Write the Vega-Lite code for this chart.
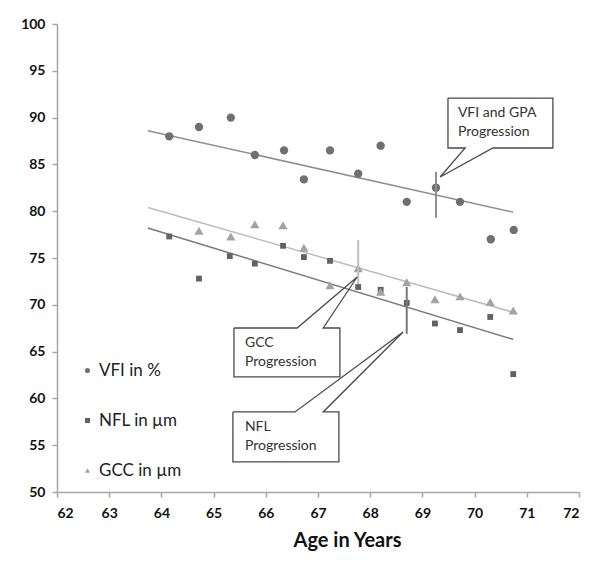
{
  "$schema": "https://vega.github.io/schema/vega-lite/v6.json",
  "width": 522,
  "height": 468,
  "autosize": {"type": "none"},
  "padding": {"left": 57, "top": 24, "right": 29, "bottom": 79},
  "background": "white",
  "config": {
    "view": {"stroke": null},
    "font": "Lato",
    "axis": {"grid": false, "domainColor": "#a6a6a6", "domainWidth": 1.5, "tickColor": "#a6a6a6", "tickWidth": 1.5, "tickSize": 5, "labelFont": "Lato", "labelFontWeight": "bold", "labelFontSize": 14, "labelColor": "#111", "titleFont": "Lato", "titleColor": "#111"}
  },
  "datasets": {
    "points": [
      {"series": "VFI in %", "age": 64.15, "value": 88.0},
      {"series": "VFI in %", "age": 64.72, "value": 89.0},
      {"series": "VFI in %", "age": 65.33, "value": 90.0},
      {"series": "VFI in %", "age": 65.79, "value": 86.0},
      {"series": "VFI in %", "age": 66.35, "value": 86.5},
      {"series": "VFI in %", "age": 66.73, "value": 83.4},
      {"series": "VFI in %", "age": 67.23, "value": 86.5},
      {"series": "VFI in %", "age": 67.77, "value": 84.0},
      {"series": "VFI in %", "age": 68.2, "value": 87.0},
      {"series": "VFI in %", "age": 68.7, "value": 81.0},
      {"series": "VFI in %", "age": 69.26, "value": 82.5},
      {"series": "VFI in %", "age": 69.72, "value": 81.0},
      {"series": "VFI in %", "age": 70.31, "value": 77.0},
      {"series": "VFI in %", "age": 70.75, "value": 78.0},
      {"series": "NFL in µm", "age": 64.15, "value": 77.3},
      {"series": "NFL in µm", "age": 64.72, "value": 72.8},
      {"series": "NFL in µm", "age": 65.31, "value": 75.2},
      {"series": "NFL in µm", "age": 65.79, "value": 74.4},
      {"series": "NFL in µm", "age": 66.33, "value": 76.3},
      {"series": "NFL in µm", "age": 66.73, "value": 75.1},
      {"series": "NFL in µm", "age": 67.23, "value": 74.7},
      {"series": "NFL in µm", "age": 67.77, "value": 71.9},
      {"series": "NFL in µm", "age": 68.2, "value": 71.6},
      {"series": "NFL in µm", "age": 68.7, "value": 70.2},
      {"series": "NFL in µm", "age": 69.24, "value": 68.0},
      {"series": "NFL in µm", "age": 69.72, "value": 67.3},
      {"series": "NFL in µm", "age": 70.3, "value": 68.7},
      {"series": "NFL in µm", "age": 70.74, "value": 62.6},
      {"series": "GCC in µm", "age": 64.72, "value": 77.9},
      {"series": "GCC in µm", "age": 65.33, "value": 77.3},
      {"series": "GCC in µm", "age": 65.79, "value": 78.6},
      {"series": "GCC in µm", "age": 66.33, "value": 78.5},
      {"series": "GCC in µm", "age": 66.73, "value": 76.1},
      {"series": "GCC in µm", "age": 67.23, "value": 72.1},
      {"series": "GCC in µm", "age": 67.77, "value": 73.9},
      {"series": "GCC in µm", "age": 68.2, "value": 71.4},
      {"series": "GCC in µm", "age": 68.7, "value": 72.4},
      {"series": "GCC in µm", "age": 69.24, "value": 70.6},
      {"series": "GCC in µm", "age": 69.72, "value": 70.9},
      {"series": "GCC in µm", "age": 70.3, "value": 70.3},
      {"series": "GCC in µm", "age": 70.74, "value": 69.4}
    ],
    "trends": [
      {"line": "VFI", "age": 63.74, "value": 88.6},
      {"line": "VFI", "age": 70.74, "value": 79.9},
      {"line": "NFL", "age": 63.74, "value": 78.2},
      {"line": "NFL", "age": 70.74, "value": 66.3},
      {"line": "GCC", "age": 63.74, "value": 80.4},
      {"line": "GCC", "age": 70.74, "value": 69.2}
    ],
    "ticks": [
      {"line": "VFI", "age": 69.26, "lo": 79.3, "hi": 84.2},
      {"line": "GCC", "age": 67.77, "lo": 72.2, "hi": 76.9},
      {"line": "NFL", "age": 68.7, "lo": 66.9, "hi": 71.9}
    ],
    "callouts": [
      {"box": "VFI", "i": 0, "age": 69.49, "value": 92.09},
      {"box": "VFI", "i": 1, "age": 71.5, "value": 92.09},
      {"box": "VFI", "i": 2, "age": 71.5, "value": 86.75},
      {"box": "VFI", "i": 3, "age": 70.35, "value": 86.75},
      {"box": "VFI", "i": 4, "age": 69.34, "value": 83.65},
      {"box": "VFI", "i": 5, "age": 69.82, "value": 86.75},
      {"box": "VFI", "i": 6, "age": 69.49, "value": 86.75},
      {"box": "VFI", "i": 7, "age": 69.49, "value": 92.09},
      {"box": "GCC", "i": 0, "age": 65.39, "value": 67.52},
      {"box": "GCC", "i": 1, "age": 66.6, "value": 67.52},
      {"box": "GCC", "i": 2, "age": 67.75, "value": 72.97},
      {"box": "GCC", "i": 3, "age": 67.1, "value": 67.52},
      {"box": "GCC", "i": 4, "age": 67.42, "value": 67.52},
      {"box": "GCC", "i": 5, "age": 67.42, "value": 62.29},
      {"box": "GCC", "i": 6, "age": 65.39, "value": 62.29},
      {"box": "GCC", "i": 7, "age": 65.39, "value": 67.52},
      {"box": "NFL", "i": 0, "age": 65.37, "value": 58.55},
      {"box": "NFL", "i": 1, "age": 66.56, "value": 58.55},
      {"box": "NFL", "i": 2, "age": 68.63, "value": 67.09},
      {"box": "NFL", "i": 3, "age": 67.1, "value": 58.55},
      {"box": "NFL", "i": 4, "age": 67.4, "value": 58.55},
      {"box": "NFL", "i": 5, "age": 67.4, "value": 53.21},
      {"box": "NFL", "i": 6, "age": 65.37, "value": 53.21},
      {"box": "NFL", "i": 7, "age": 65.37, "value": 58.55}
    ],
    "labels": [
      {"age": 69.68, "value": 90.5, "text": "VFI and GPA"},
      {"age": 69.68, "value": 88.45, "text": "Progression"},
      {"age": 65.6, "value": 65.9, "text": "GCC"},
      {"age": 65.6, "value": 63.85, "text": "Progression"},
      {"age": 65.6, "value": 56.95, "text": "NFL"},
      {"age": 65.6, "value": 54.9, "text": "Progression"}
    ]
  },
  "encoding": {
    "x": {"field": "age", "type": "quantitative", "scale": {"domain": [62, 72], "nice": false, "zero": false},
      "axis": {"title": "Age in Years", "values": [62, 63, 64, 65, 66, 67, 68, 69, 70, 71, 72], "labelPadding": 9, "titleFontSize": 20, "titleFontWeight": "bold", "titleX": 290, "titleY": 38, "titleBaseline": "top", "titleAnchor": "middle"}},
    "y": {"field": "value", "type": "quantitative", "scale": {"domain": [50, 100], "nice": false, "zero": false},
      "axis": {"title": null, "values": [50, 55, 60, 65, 70, 75, 80, 85, 90, 95, 100], "labelPadding": 7}}
  },
  "layer": [
    {
      "data": {"name": "trends"},
      "mark": {"type": "line", "strokeWidth": 1.5},
      "encoding": {
        "detail": {"field": "line"},
        "stroke": {"field": "line", "type": "nominal", "scale": {"domain": ["VFI", "NFL", "GCC"], "range": ["#8f8f8f", "#7a7a7a", "#bdbdbd"]}, "legend": null}
      }
    },
    {
      "data": {"name": "points"},
      "transform": [{"filter": "datum.series === 'VFI in %'"}],
      "mark": {"type": "point", "filled": true, "opacity": 1, "size": 70},
      "encoding": {
        "color": {"field": "series", "type": "nominal", "scale": {"domain": ["VFI in %", "NFL in µm", "GCC in µm"], "range": ["#707070", "#626262", "#a3a3a3"]},
          "legend": {"title": null, "orient": "none", "legendX": 22, "legendY": 338, "labelFontSize": 17, "labelFont": "Lato", "labelColor": "#222", "rowPadding": 32, "symbolSize": 26, "labelOffset": 3, "padding": 0}},
        "shape": {"field": "series", "type": "nominal", "scale": {"domain": ["VFI in %", "NFL in µm", "GCC in µm"], "range": ["circle", "square", "triangle-up"]}}
      }
    },
    {
      "data": {"name": "points"},
      "transform": [{"filter": "datum.series === 'NFL in µm'"}],
      "mark": {"type": "point", "filled": true, "opacity": 1, "size": 34},
      "encoding": {
        "color": {"field": "series", "type": "nominal"},
        "shape": {"field": "series", "type": "nominal"}
      }
    },
    {
      "data": {"name": "points"},
      "transform": [{"filter": "datum.series === 'GCC in µm'"}],
      "mark": {"type": "point", "filled": true, "opacity": 1, "size": 85},
      "encoding": {
        "color": {"field": "series", "type": "nominal"},
        "shape": {"field": "series", "type": "nominal"}
      }
    },
    {
      "data": {"name": "ticks"},
      "mark": {"type": "rule", "strokeWidth": 2},
      "encoding": {
        "y": {"field": "lo", "type": "quantitative"},
        "y2": {"field": "hi"},
        "stroke": {"field": "line", "type": "nominal", "scale": {"domain": ["VFI", "NFL", "GCC"], "range": ["#8f8f8f", "#7a7a7a", "#bdbdbd"]}, "legend": null}
      }
    },
    {
      "data": {"name": "callouts"},
      "mark": {"type": "line", "strokeWidth": 1.3, "color": "#4a4a4a"},
      "encoding": {
        "detail": {"field": "box"},
        "order": {"field": "i", "type": "quantitative"}
      }
    },
    {
      "data": {"name": "labels"},
      "mark": {"type": "text", "align": "left", "baseline": "middle", "fontSize": 14, "font": "Lato", "color": "#333"},
      "encoding": {"text": {"field": "text"}}
    }
  ]
}
